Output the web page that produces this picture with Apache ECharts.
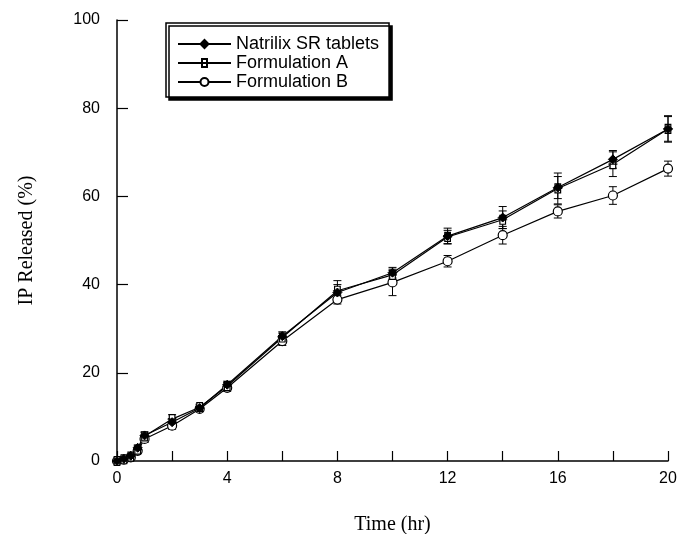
<!DOCTYPE html>
<html>
<head>
<meta charset="utf-8">
<script src="https://cdn.jsdelivr.net/npm/echarts@6/dist/echarts.min.js"></script>
<style>html,body{margin:0;padding:0;background:#fff}#c{width:680px;height:534px}</style>
</head>
<body>
<div id="c"></div>
<script>
const time = [0,0.25,0.5,0.75,1,2,3,4,6,8,10,12,14,16,18,20];
const natrilix = [0,0.5,1.2,3,5.8,8.8,12,17.3,28.3,38.2,42.7,51,55.2,62,68.4,75.3];
const formA = [0,0.4,1,2.6,5.6,9.5,12.2,17,28,38.6,42.2,50.8,54.7,61.8,67.3,75.3];
const formB = [0,0.3,0.8,2.3,5,8,11.8,16.6,27.2,36.6,40.5,45.3,51.2,56.6,60.2,66.3];
const errN = [0,0.3,0.4,0.6,0.8,0.8,0.7,0.8,1,1.8,1.2,1.8,2.5,2.5,2,2.8];
const errA = [0,0.3,0.4,0.6,0.8,1,0.7,0.8,1,2.3,1,1.5,2,3.5,2.8,3];
const errB = [0,0.3,0.4,0.5,0.8,0.8,0.6,0.8,1,1,3,1.3,2,1.5,2,1.7];
const names = ['Natrilix SR tablets','Formulation A','Formulation B'];

function pairs(v){ return time.map((t,i)=>[t,v[i]]); }
function errData(v,e){ return time.map((t,i)=>[t,v[i]-e[i],v[i]+e[i]]); }
function errSeries(v,e){
  return {
    type:'custom', silent:true, z:1,
    data: errData(v,e),
    renderItem: function(params, api){
      const lo = api.coord([api.value(0), api.value(1)]);
      const hi = api.coord([api.value(0), api.value(2)]);
      const w = 4;
      const st = {stroke:'#000', lineWidth:1};
      return {type:'group', children:[
        {type:'line', shape:{x1:lo[0],y1:lo[1],x2:hi[0],y2:hi[1]}, style:st},
        {type:'line', shape:{x1:lo[0]-w,y1:lo[1],x2:lo[0]+w,y2:lo[1]}, style:st},
        {type:'line', shape:{x1:hi[0]-w,y1:hi[1],x2:hi[0]+w,y2:hi[1]}, style:st}
      ]};
    }
  };
}
const lineBase = {type:'line', lineStyle:{color:'#000', width:1.2}, z:3, animation:false};

const chart = echarts.init(document.getElementById('c'));
chart.setOption({
  animation:false,
  backgroundColor:'#fff',
  grid:{left:117, right:12, top:20, bottom:73, containLabel:false, outerBoundsMode:'none'},
  legend:{
    data:names, orient:'vertical', left:166, top:23,
    itemWidth:53, itemHeight:10, itemGap:1,
    padding:[12,10,6,11],
    backgroundColor:'#fff', borderColor:'#000', borderWidth:1.5,
    shadowColor:'#000', shadowOffsetX:3, shadowOffsetY:3, shadowBlur:0,
    textStyle:{fontFamily:'Liberation Sans, Arial', fontSize:18, color:'#000', padding:[0,0,0,0]}
  },
  xAxis:{
    type:'value', min:0, max:20, interval:4,
    name:'Time (hr)', nameLocation:'middle', nameGap:54,
    nameTextStyle:{fontFamily:'Liberation Serif, Times New Roman', fontSize:20, color:'#000'},
    axisLine:{show:true, lineStyle:{color:'#000', width:1.5}},
    axisTick:{show:true, inside:true, length:10, lineStyle:{color:'#000', width:1.2}},
    minorTick:{show:true, splitNumber:2, length:10, lineStyle:{color:'#000', width:1.2}},
    axisLabel:{fontFamily:'Liberation Sans, Arial', fontSize:16, color:'#000', margin:10},
    splitLine:{show:false}
  },
  yAxis:{
    type:'value', min:0, max:100, interval:20,
    name:'IP Released (%)', nameLocation:'middle', nameGap:80, nameRotate:90,
    nameTextStyle:{fontFamily:'Liberation Serif, Times New Roman', fontSize:20, color:'#000'},
    axisLine:{show:true, lineStyle:{color:'#000', width:1.5}},
    axisTick:{show:true, inside:true, length:11, lineStyle:{color:'#000', width:1.2}},
    axisLabel:{fontFamily:'Liberation Sans, Arial', fontSize:16, color:'#000', margin:17},
    splitLine:{show:false}
  },
  series:[
    errSeries(natrilix, errN),
    errSeries(formA, errA),
    errSeries(formB, errB),
    Object.assign({}, lineBase, {name:names[2], data:pairs(formB), symbol:'circle', symbolSize:9,
      itemStyle:{color:'#fff', borderColor:'#000', borderWidth:1.2}}),
    Object.assign({}, lineBase, {name:names[1], data:pairs(formA),
      symbol:'path://M0,0 L10,0 L10,10 L0,10 Z M-3,5 L13,5', symbolSize:9,
      itemStyle:{color:'#fff', borderColor:'#000', borderWidth:1.2}}),
    Object.assign({}, lineBase, {name:names[0], data:pairs(natrilix), symbol:'diamond', symbolSize:9,
      itemStyle:{color:'#000', borderColor:'#000', borderWidth:1}})
  ]
});
</script>
</body>
</html>
